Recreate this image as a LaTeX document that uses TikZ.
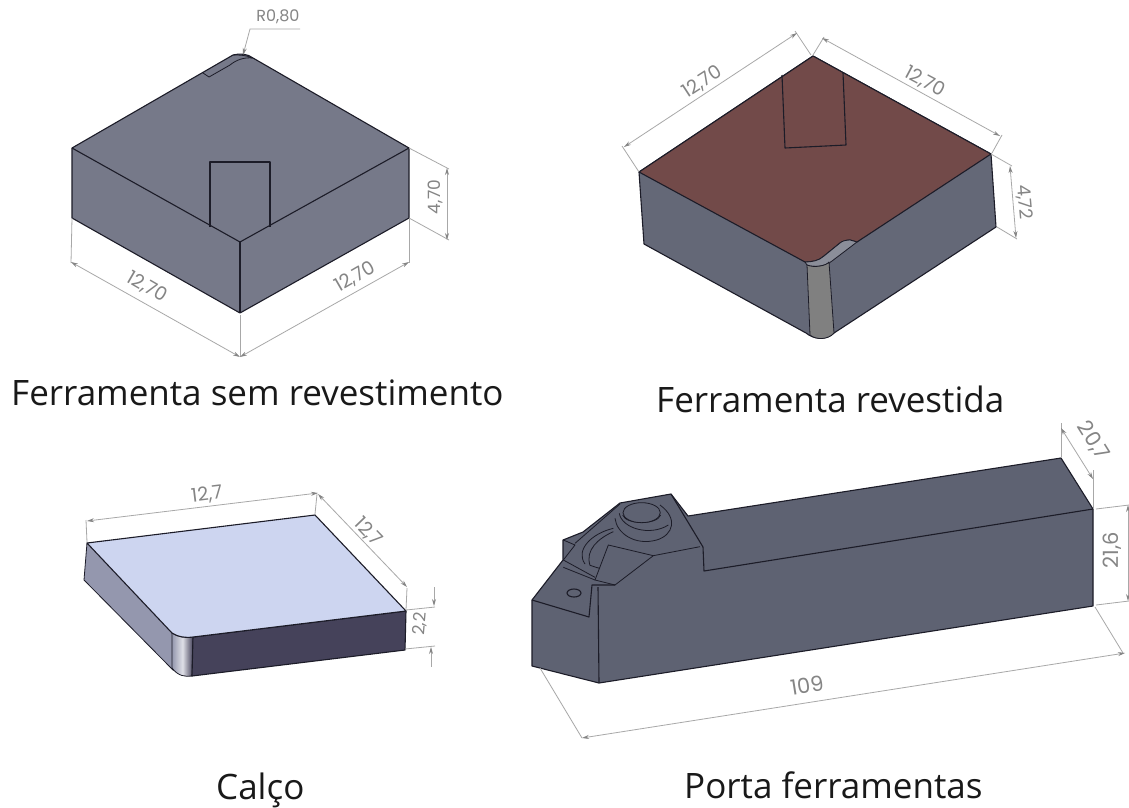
\documentclass[tikz,border=0pt]{standalone}
\usepackage{fontspec}
\setmainfont{Open Sans}
\newfontfamily\dimfont{Poppins}
\usetikzlibrary{arrows.meta}
\definecolor{bodyA}{HTML}{767989}
\definecolor{bodyB}{HTML}{646877}
\definecolor{bodyC}{HTML}{5E6272}
\definecolor{coat}{HTML}{724A49}
\definecolor{strip}{HTML}{808080}
\definecolor{shimtop}{HTML}{CDD5F0}
\definecolor{shimside}{HTML}{9497AE}
\definecolor{shimfront}{HTML}{45425A}
\definecolor{dimc}{HTML}{A8A8A8}
\definecolor{dimt}{HTML}{858585}
\definecolor{edgec}{HTML}{1C1C28}
\tikzset{
  edge/.style={draw=edgec,line width=1.1pt,line join=round},
  thin edge/.style={draw=edgec,line width=0.8pt,line join=round},
  ext/.style={draw=dimc,line width=0.8pt},
  dimline/.style={draw=dimc,line width=0.8pt,{Stealth[length=7pt,width=4pt,color=dimt]}-{Stealth[length=7pt,width=4pt,color=dimt]}},
  smalldim/.style={text=dimt,font=\dimfont\fontsize{16}{16}\selectfont,inner sep=0pt},
  dimtext/.style={text=dimt,font=\dimfont\fontsize{19}{19}\selectfont,inner sep=0pt},
  bigdim/.style={text=dimt,font=\dimfont\fontsize{21}{21}\selectfont,inner sep=0pt},
  caption/.style={text=black!90,font=\fontsize{35}{40}\selectfont,inner sep=0pt,anchor=base west}
}
\begin{document}
\begin{tikzpicture}[x=1pt,y=-1pt]
\useasboundingbox[fill=white] (0,0) rectangle (1129,807);

% ---------- Block 1: uncoated tool
\path[edge,fill=bodyA] (72,148) -- (233,55) .. controls (240,53) and (248,54) .. (253,58) -- (409,148) -- (409,218) -- (240,313) -- (72,218) -- cycle;
\draw[edge] (72,148) -- (240,242) -- (409,148);
\draw[edge] (240,242) -- (240,313);
\draw[edge] (210,227) -- (210,162) -- (270,162) -- (270,227);
\draw[thin edge] (203,73) -- (209,77) -- (230,65) .. controls (236,60) and (244,57) .. (253,58);
\draw[thin edge] (233,55) .. controls (240,55) and (246,55) .. (252,58);
% dimensions
\draw[ext] (409,148) -- (449,169);
\draw[ext] (409,218) -- (449,240);
\draw[dimline] (447,168) -- (447,240);
\node[smalldim,font=\dimfont\fontsize{17}{17}\selectfont,rotate=90] (d470) at (435,197) {4,70};
\draw[ext] (72,218) -- (71,263);
\draw[ext] (240,315) -- (240,357);
\draw[ext] (409,218) -- (409,263);
\draw[dimline] (71,262) -- (240,357);
\draw[dimline] (240,357) -- (409,262);
\node[dimtext,rotate=-30] (d127a) at (147,287) {12,70};
\node[dimtext,rotate=30] (d127b) at (355,277) {12,70};
\draw[ext,-{Stealth[length=7pt,width=4pt,color=dimt]}] (300,29) -- (250,29) -- (243,55);
\node[smalldim] (dr) at (278,17) {R0,80};

% ---------- Block 2: coated tool
\path[edge,fill=bodyB] (639,172) -- (644,244) -- (806,333) .. controls (813,339) and (826,341) .. (834,333) -- (996,227) -- (991,154) -- (813,56) -- cycle;
\path[edge,fill=coat] (639,172) -- (813,56) -- (991,154) -- (857,242) -- (850,240) .. controls (845,240) and (842,242) .. (840,243) -- (824,256) .. controls (819,261) and (811,262) .. (805,262) -- cycle;
\path[thin edge,fill=bodyB!75!white] (805,262) .. controls (811,262) and (819,261) .. (824,256) -- (840,243) .. controls (842,241) and (846,240) .. (850,240) -- (857,242) -- (832,261) .. controls (826,266) and (814,268) .. (807,265) -- cycle;
\path[thin edge,fill=strip] (807,265) .. controls (814,268) and (826,266) .. (829,262) -- (834,333) .. controls (828,340) and (816,340) .. (810,335) -- cycle;
\draw[edge] (782,75) -- (785,148) -- (846,145) -- (843,73);
% dimensions
\draw[ext] (639,172) -- (622,146);
\draw[ext] (811,55) -- (795,31);
\draw[dimline] (624,147) -- (797,33);
\draw[ext] (813,55) -- (824,37);
\draw[ext] (992,153) -- (1002,135);
\draw[dimline] (822,38) -- (1000,136);
\draw[ext] (991,154) -- (1012,166);
\draw[ext] (997,227) -- (1017,239);
\draw[dimline] (1010,166) -- (1016,238);
\node[dimtext,rotate=33] (d2a) at (702,82) {12,70};
\node[dimtext,rotate=-28] (d2b) at (925,82) {12,70};
\node[smalldim,font=\dimfont\fontsize{18}{18}\selectfont,rotate=-85] (d2c) at (1024,202) {4,72};

% ---------- Shim
\path[left color=shimside,right color=shimside,thin edge] (87,543) -- (84,580) -- (173,670) -- (192,676) -- (193,637) -- cycle;
\path[thin edge,left color=shimside,right color=shimfront,middle color=white!70!shimside] (172,633) .. controls (178,637) and (185,638) .. (193,637) -- (192,676) .. controls (185,677) and (178,676) .. (172,668) -- cycle;
\path[edge,fill=shimfront] (193,637) -- (406,611) -- (405,650) -- (192,676) -- cycle;
\path[edge,fill=shimtop] (87,543) -- (315,515) -- (406,611) -- (193,637) .. controls (185,638) and (178,637) .. (172,633) -- cycle;
% dimensions
\draw[ext] (87,542) -- (86,520);
\draw[ext] (315,514) -- (317,494);
\draw[dimline] (87,521) -- (318,493);
\draw[dimline] (318,494) -- (407,587);
\draw[ext] (407,588) -- (406,610);
\draw[ext] (406,610) -- (435,607);
\draw[ext] (405,649) -- (435,646);
\draw[ext,{Stealth[length=7pt,width=4pt,color=dimt]}-] (434,606) -- (434,587);
\draw[ext,{Stealth[length=7pt,width=4pt,color=dimt]}-] (431,647) -- (431,667);
\node[dimtext,rotate=7] (s1) at (207,495) {12,7};
\node[dimtext,rotate=-46] (s2) at (368,532) {12,7};
\node[smalldim,font=\dimfont\fontsize{17}{17}\selectfont,rotate=85] (s3) at (420,624) {2,2};

% ---------- Tool holder
\path[edge,fill=bodyC] (532,600) -- (532,666) -- (599,683) -- (1093,606) -- (1093,509) -- (1061,458) -- (688,516) -- (671,494) -- (620,503) -- (583,532) -- (563,540) -- (563,560) -- cycle;
\draw[edge] (1093,509) -- (704,571) -- (703,547) -- (671,494);
\draw[edge] (532,600) -- (589,617) -- (592,585) -- (615,585);
\draw[edge] (599,683) -- (598,587);
\begin{scope}[shift={(550,490)},x=0.3333pt,y=-0.3333pt]
  \draw[thin edge] (450,170) -- (310,197) -- (195,285);
  \draw[thin edge] (310,197) -- (175,165) -- (135,270) -- (195,285);
  \draw[thin edge] (40,150) -- (75,165) -- (40,210) -- (135,262);
  \draw[thin edge] (40,232) -- (135,270);
  \draw[thin edge] (75,160) -- (210,42);
  \draw[thin edge] (190,115) .. controls (125,130) and (75,180) .. (105,222);
  \draw[thin edge] (190,125) .. controls (145,145) and (105,180) .. (120,226) -- (148,235);
  \draw[thin edge] (195,85) .. controls (200,130) and (255,168) .. (320,150) .. controls (370,135) and (385,85) .. (330,45);
  \draw[thin edge] (208,70) .. controls (215,115) and (300,140) .. (355,105);
  \draw[thin edge] (218,75) .. controls (228,105) and (322,105) .. (332,75);
  \path[thin edge,fill=bodyC] (275,68) ellipse (56 and 30);
\end{scope}
\draw[edge] (574,593) ellipse (7 and 4);
% dimensions
\draw[ext] (540,668) -- (582,738);
\draw[ext] (1095,607) -- (1123,653);
\draw[dimline] (582,738) -- (1125,653);
\node[bigdim,rotate=9] (p1) at (807,685) {109};
\draw[ext] (1061,457) -- (1061,423);
\draw[ext] (1093,508) -- (1093,470);
\draw[dimline] (1061,428) -- (1093,479);
\node[bigdim,rotate=-58] (p2) at (1093,441) {20,7};
\draw[ext] (1096,509) -- (1129,505);
\draw[ext] (1096,605) -- (1129,601);
\draw[dimline] (1128,505) -- (1128,601);
\node[bigdim,rotate=90] (p3) at (1112,550) {21,6};

% ---------- Captions
\node[caption] (c1) at (11,405) {Ferramenta sem revestimento};
\node[caption] (c2) at (656,412) {Ferramenta revestida};
\node[caption] (c3) at (216,799) {Calço};
\node[caption] (c4) at (684,798) {Porta ferramentas};
\end{tikzpicture}
\end{document}
